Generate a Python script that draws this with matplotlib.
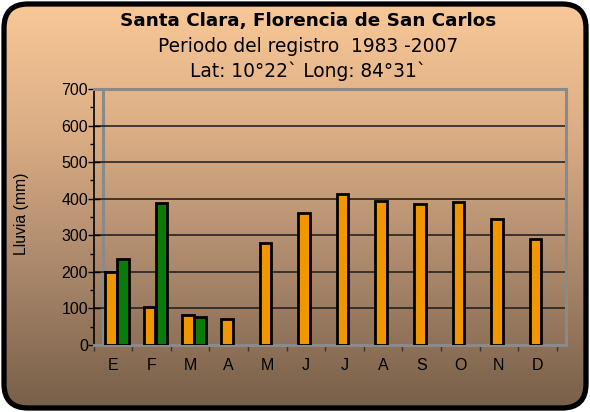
import numpy as np
import matplotlib
matplotlib.use("Agg")
import matplotlib.pyplot as plt
from matplotlib.patches import FancyBboxPatch
from matplotlib.colors import LinearSegmentedColormap

# datos
meses = ['E', 'F', 'M', 'A', 'M', 'J', 'J', 'A', 'S', 'O', 'N', 'D']
lluvia_naranja = [199, 105, 82, 71, 279, 362, 414, 394, 386, 390, 344, 291]
lluvia_verde = [236, 387, 76]   # solo E, F, M
titulo = 'Santa Clara, Florencia de San Carlos'
sub1 = 'Periodo del registro  1983 -2007'
sub2 = 'Lat: 10°22` Long: 84°31`'

W, H = 590, 412
fig = plt.figure(figsize=(W / 100, H / 100), dpi=100)
fig.patch.set_facecolor('white')

# fondo con degradado y borde redondeado
bg = fig.add_axes([0, 0, 1, 1])
bg.set_xlim(0, W)
bg.set_ylim(H, 0)
bg.axis('off')
cmap = LinearSegmentedColormap.from_list('fondo', ['#FAC998', '#D9AC84', '#A8866A', '#765E48'])
grad = np.linspace(0, 1, 256).reshape(-1, 1)
im = bg.imshow(grad, cmap=cmap, aspect='auto', extent=(0, W, H, 0), zorder=0)
caja = FancyBboxPatch((4, 4), W - 8, H - 8, boxstyle='round,pad=0,rounding_size=24',
                      facecolor='none', edgecolor='black', linewidth=3.8, zorder=2)
bg.add_patch(caja)
im.set_clip_path(caja)

# lineas de la pared (efecto 3D)
gris = '#8a8a8a'
bg.plot([103, 103], [89, 345], color=gris, lw=2.2, zorder=1)

# titulos
xt = 308 / W
fig.text(xt, 1 - 21 / H, titulo, ha='center', va='center', fontsize=13.2,
         fontweight='bold', family='DejaVu Sans')
fig.text(xt, 1 - 47 / H, sub1, ha='center', va='center', fontsize=13.4, family='DejaVu Sans')
fig.text(xt, 1 - 71 / H, sub2, ha='center', va='center', fontsize=13.4, family='DejaVu Sans')

# area del grafico
x0, x1 = 93.6, 566
y0, y1 = 345, 89
paso = 38.6
ax = fig.add_axes([x0 / W, 1 - y0 / H, (x1 - x0) / W, (y0 - y1) / H])
ax.patch.set_alpha(0)
ax.set_xlim(-0.5, -0.5 + (x1 - x0) / paso)
ax.set_ylim(0, 700)

for y in range(100, 700, 100):
    ax.axhline(y, color='#1a1a1a', lw=1.1, zorder=1)

x = np.arange(len(meses))
ancho = 0.3
ax.bar(x - 0.05, lluvia_naranja, ancho, color='#F29600', edgecolor='black', lw=2, zorder=3)
ax.bar(x[:len(lluvia_verde)] + 0.26, lluvia_verde, ancho, color='#0A7A0A',
       edgecolor='black', lw=2, zorder=3)

for s in ['top', 'right', 'bottom']:
    ax.spines[s].set_color(gris)
    ax.spines[s].set_linewidth(2.2)
ax.spines['left'].set_color('black')
ax.spines['left'].set_linewidth(1.2)

ax.set_yticks(range(0, 701, 100))
ax.set_yticks(range(50, 700, 100), minor=True)
ax.tick_params(axis='y', which='major', direction='inout', length=8, width=1,
               labelsize=11.5, pad=0)
ax.tick_params(axis='y', which='minor', direction='out', length=3, width=1)
ax.set_xticks(np.arange(-0.5, 12, 1), minor=True)
ax.set_xticks(x)
ax.set_xticklabels(meses)
ax.tick_params(axis='x', which='major', length=0, labelsize=11.5, pad=9)
ax.tick_params(axis='x', which='minor', direction='out', length=4, width=1, color='#333333')
for t in ax.get_xticklabels() + ax.get_yticklabels():
    t.set_family('Liberation Sans')

fig.text(22 / W, 1 - 214 / H, 'Lluvia (mm)', rotation=90, ha='center', va='center',
         fontsize=11.3, family='Liberation Sans')

fig.savefig('out.png', dpi=100)
